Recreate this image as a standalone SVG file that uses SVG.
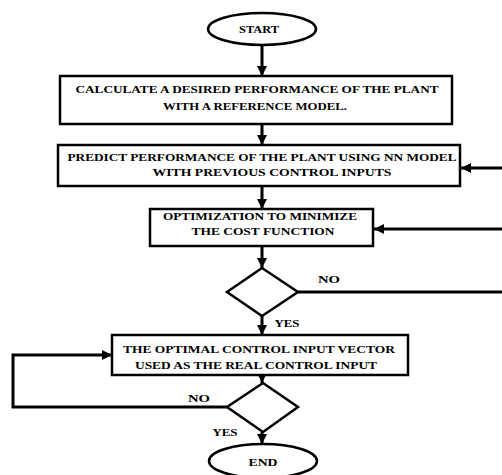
<svg xmlns="http://www.w3.org/2000/svg" width="502" height="475" viewBox="0 0 502 475">
<style>
.s{fill:#fff;stroke:#000;stroke-width:2.5}
.c{fill:none;stroke:#000;stroke-width:3}
text{font-family:"Liberation Serif","Times New Roman",serif;font-weight:bold;font-size:11px;fill:#000;text-anchor:middle}
</style>
<defs>
<marker id="ah" markerUnits="userSpaceOnUse" markerWidth="11" markerHeight="11" refX="10" refY="5" orient="auto">
<path d="M0,0 L10,5 L0,10 z" fill="#000"/>
</marker>
</defs>
<rect width="502" height="475" fill="#fff"/>
<g id="connectors">
<path class="c" d="M262,44 V76" marker-end="url(#ah)"/>
<path class="c" d="M262,124 V145" marker-end="url(#ah)"/>
<path class="c" d="M262,186 V209" marker-end="url(#ah)"/>
<path class="c" d="M262,246 V268" marker-end="url(#ah)"/>
<path class="c" d="M262,316 V335" marker-end="url(#ah)"/>
<path class="c" d="M262,375 V383" marker-end="url(#ah)"/>
<path class="c" d="M262,432 V444" marker-end="url(#ah)"/>
<path class="c" d="M502,168 H461" marker-end="url(#ah)"/>
<path class="c" d="M502,229 H374" marker-end="url(#ah)"/>
<path class="c" d="M298,292 H502"/>
<path class="c" d="M227,407 H13 V355 H112" marker-end="url(#ah)"/>
<text x="329" y="283" textLength="22" lengthAdjust="spacingAndGlyphs">NO</text>
<text x="287" y="327" textLength="25" lengthAdjust="spacingAndGlyphs">YES</text>
<text x="199" y="402" textLength="22" lengthAdjust="spacingAndGlyphs">NO</text>
<text x="225" y="436" textLength="25" lengthAdjust="spacingAndGlyphs">YES</text>
</g>
<g id="start">
<ellipse class="s" cx="262" cy="29" rx="54" ry="16"/>
<text x="259" y="33" textLength="40" lengthAdjust="spacingAndGlyphs">START</text>
</g>
<g id="calc">
<rect class="s" x="60" y="76" width="392" height="48"/>
<text x="257" y="93" textLength="363" lengthAdjust="spacingAndGlyphs">CALCULATE A DESIRED PERFORMANCE OF THE PLANT</text>
<text x="255" y="110" textLength="184" lengthAdjust="spacingAndGlyphs">WITH A REFERENCE MODEL.</text>
</g>
<g id="predict">
<rect class="s" x="58" y="145" width="402" height="41"/>
<text x="262" y="161" textLength="389" lengthAdjust="spacingAndGlyphs">PREDICT PERFORMANCE OF THE PLANT USING NN MODEL</text>
<text x="272" y="176" textLength="239" lengthAdjust="spacingAndGlyphs">WITH PREVIOUS CONTROL INPUTS</text>
</g>
<g id="optimize">
<rect class="s" x="150" y="209" width="223" height="37"/>
<text x="260" y="220" textLength="194" lengthAdjust="spacingAndGlyphs">OPTIMIZATION TO MINIMIZE</text>
<text x="263" y="235" textLength="143" lengthAdjust="spacingAndGlyphs">THE COST FUNCTION</text>
</g>
<g id="decision1">
<polygon class="s" points="262,268 298,292 262,316 227,292"/>
</g>
<g id="apply">
<rect class="s" x="112" y="335" width="296" height="40"/>
<text x="259" y="353" textLength="272" lengthAdjust="spacingAndGlyphs">THE OPTIMAL CONTROL INPUT VECTOR</text>
<text x="256" y="369" textLength="242" lengthAdjust="spacingAndGlyphs">USED AS THE REAL CONTROL INPUT</text>
</g>
<g id="decision2">
<polygon class="s" points="263,383 298,407 263,432 227,407"/>
</g>
<g id="end">
<ellipse class="s" cx="263" cy="461" rx="54" ry="17"/>
<text x="263" y="466" textLength="29" lengthAdjust="spacingAndGlyphs">END</text>
</g>
</svg>
